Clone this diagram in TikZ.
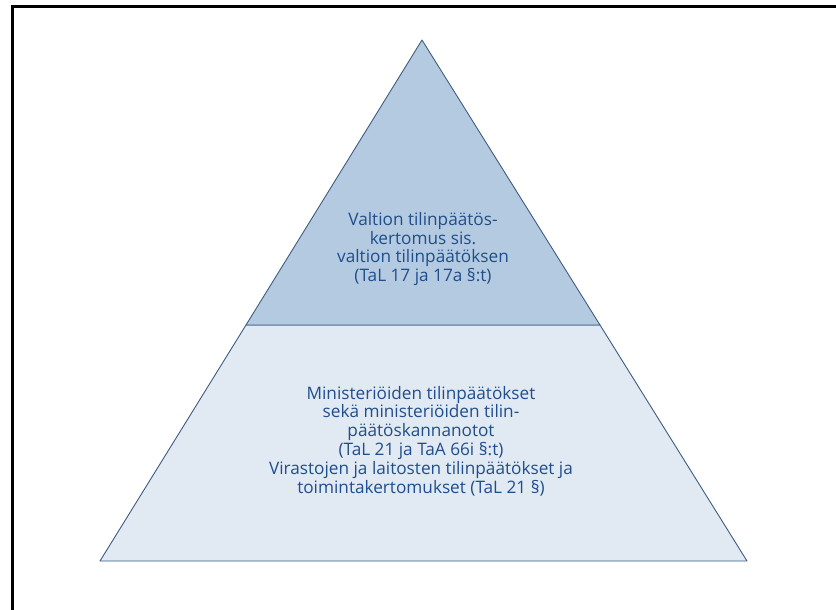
\documentclass[tikz,border=0pt]{standalone}
\usepackage{fontspec}
\setmainfont{Open Sans}
\usetikzlibrary{positioning}
\definecolor{pyrline}{RGB}{62,92,130}
\definecolor{pyrtop}{RGB}{180,202,224}
\definecolor{pyrbase}{RGB}{225,234,243}
\definecolor{pyrtext}{RGB}{32,78,140}

\begin{document}
\begin{tikzpicture}[
    x=1pt, y=-1pt,
    level/.style={draw=pyrline, line width=0.9pt, line join=round},
    label/.style={align=center, font=\fontsize{17.2}{18.8}\selectfont, text=pyrtext, inner sep=0pt}
]
    \useasboundingbox (0,0) rectangle (836,610);

    % Frame
    \draw[line width=3pt] (12,610) -- (12,6.5) -- (836,6.5);

    % Pyramid corners
    \coordinate (apex) at (422,40);
    \coordinate (midl) at (246,325);
    \coordinate (midr) at (600,325);
    \coordinate (basel) at (100,561);
    \coordinate (baser) at (747,561);

    % Levels
    \filldraw[level, fill=pyrbase] (midl) -- (midr) -- (baser) -- (basel) -- cycle;
    \filldraw[level, fill=pyrtop] (apex) -- (midr) -- (midl) -- cycle;

    % Texts
    \node[label] (top) at (423,249) {Valtion tilinpäätös-\\kertomus sis.\\valtion tilinpäätöksen\\(TaL 17 ja 17a §:t)};
    \node[label] (base) at (421,441) {Ministeriöiden tilinpäätökset\\sekä ministeriöiden tilin-\\päätöskannanotot\\(TaL 21 ja TaA 66i §:t)\\Virastojen ja laitosten tilinpäätökset ja\\toimintakertomukset (TaL 21 §)};
\end{tikzpicture}
\end{document}
